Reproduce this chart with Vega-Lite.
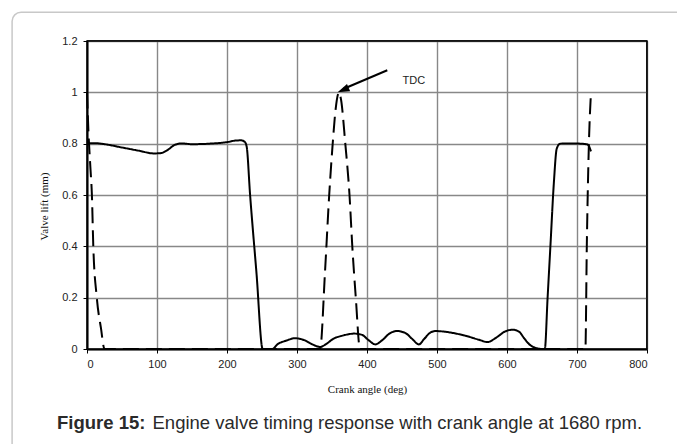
{
  "$schema": "https://vega.github.io/schema/vega-lite/v6.json",
  "autosize": {"type": "none"},
  "padding": {"left": 87, "top": 41, "right": 30, "bottom": 95},
  "width": 560,
  "height": 308,
  "background": "white",
  "config": {
    "view": {"stroke": "#000000", "strokeWidth": 1.5},
    "axis": {
      "grid": true,
      "gridColor": "#888888",
      "gridWidth": 1.4,
      "labelFont": "Liberation Sans",
      "labelFontSize": 11,
      "labelColor": "#222222",
      "titleFont": "Liberation Serif",
      "titleFontSize": 11,
      "titleFontWeight": "normal",
      "titleColor": "#111111",
      "domainColor": "#000000",
      "domainWidth": 2,
      "tickColor": "#000000",
      "tickSize": 4
    }
  },
  "datasets": {
    "lift": [
      {"angle": 0, "lift": 0.800, "series": "solid"},
      {"angle": 10, "lift": 0.802, "series": "solid"},
      {"angle": 25, "lift": 0.798, "series": "solid"},
      {"angle": 50, "lift": 0.785, "series": "solid"},
      {"angle": 75, "lift": 0.772, "series": "solid"},
      {"angle": 95, "lift": 0.762, "series": "solid"},
      {"angle": 105, "lift": 0.763, "series": "solid"},
      {"angle": 115, "lift": 0.775, "series": "solid"},
      {"angle": 125, "lift": 0.795, "series": "solid"},
      {"angle": 135, "lift": 0.801, "series": "solid"},
      {"angle": 150, "lift": 0.798, "series": "solid"},
      {"angle": 175, "lift": 0.800, "series": "solid"},
      {"angle": 200, "lift": 0.806, "series": "solid"},
      {"angle": 212, "lift": 0.812, "series": "solid"},
      {"angle": 220, "lift": 0.813, "series": "solid"},
      {"angle": 225, "lift": 0.808, "series": "solid"},
      {"angle": 228, "lift": 0.790, "series": "solid"},
      {"angle": 233, "lift": 0.600, "series": "solid"},
      {"angle": 242, "lift": 0.300, "series": "solid"},
      {"angle": 251, "lift": 0.000, "series": "solid"},
      {"angle": 265, "lift": 0.000, "series": "solid"},
      {"angle": 272, "lift": 0.018, "series": "solid"},
      {"angle": 285, "lift": 0.033, "series": "solid"},
      {"angle": 297, "lift": 0.042, "series": "solid"},
      {"angle": 310, "lift": 0.035, "series": "solid"},
      {"angle": 322, "lift": 0.018, "series": "solid"},
      {"angle": 333, "lift": 0.008, "series": "solid"},
      {"angle": 342, "lift": 0.020, "series": "solid"},
      {"angle": 352, "lift": 0.040, "series": "solid"},
      {"angle": 365, "lift": 0.052, "series": "solid"},
      {"angle": 382, "lift": 0.060, "series": "solid"},
      {"angle": 393, "lift": 0.055, "series": "solid"},
      {"angle": 402, "lift": 0.035, "series": "solid"},
      {"angle": 412, "lift": 0.018, "series": "solid"},
      {"angle": 422, "lift": 0.035, "series": "solid"},
      {"angle": 432, "lift": 0.060, "series": "solid"},
      {"angle": 443, "lift": 0.070, "series": "solid"},
      {"angle": 455, "lift": 0.062, "series": "solid"},
      {"angle": 465, "lift": 0.038, "series": "solid"},
      {"angle": 474, "lift": 0.018, "series": "solid"},
      {"angle": 482, "lift": 0.040, "series": "solid"},
      {"angle": 490, "lift": 0.063, "series": "solid"},
      {"angle": 498, "lift": 0.070, "series": "solid"},
      {"angle": 515, "lift": 0.066, "series": "solid"},
      {"angle": 540, "lift": 0.052, "series": "solid"},
      {"angle": 560, "lift": 0.036, "series": "solid"},
      {"angle": 572, "lift": 0.027, "series": "solid"},
      {"angle": 585, "lift": 0.045, "series": "solid"},
      {"angle": 597, "lift": 0.068, "series": "solid"},
      {"angle": 608, "lift": 0.075, "series": "solid"},
      {"angle": 617, "lift": 0.068, "series": "solid"},
      {"angle": 625, "lift": 0.040, "series": "solid"},
      {"angle": 632, "lift": 0.018, "series": "solid"},
      {"angle": 640, "lift": 0.005, "series": "solid"},
      {"angle": 650, "lift": 0.000, "series": "solid"},
      {"angle": 654, "lift": 0.000, "series": "solid"},
      {"angle": 658, "lift": 0.200, "series": "solid"},
      {"angle": 662, "lift": 0.400, "series": "solid"},
      {"angle": 667, "lift": 0.650, "series": "solid"},
      {"angle": 671, "lift": 0.780, "series": "solid"},
      {"angle": 676, "lift": 0.800, "series": "solid"},
      {"angle": 690, "lift": 0.801, "series": "solid"},
      {"angle": 705, "lift": 0.800, "series": "solid"},
      {"angle": 715, "lift": 0.797, "series": "solid"},
      {"angle": 720, "lift": 0.770, "series": "solid"},
      {"angle": 0, "lift": 1.0, "series": "dashed"},
      {"angle": 2, "lift": 0.85, "series": "dashed"},
      {"angle": 5, "lift": 0.70, "series": "dashed"},
      {"angle": 7, "lift": 0.60, "series": "dashed"},
      {"angle": 9, "lift": 0.40, "series": "dashed"},
      {"angle": 14, "lift": 0.20, "series": "dashed"},
      {"angle": 20, "lift": 0.08, "series": "dashed"},
      {"angle": 25, "lift": 0.0, "series": "dashed"},
      {"angle": 333, "lift": 0.0, "series": "dashed"},
      {"angle": 340, "lift": 0.30, "series": "dashed"},
      {"angle": 346, "lift": 0.60, "series": "dashed"},
      {"angle": 351, "lift": 0.80, "series": "dashed"},
      {"angle": 355, "lift": 0.93, "series": "dashed"},
      {"angle": 360, "lift": 1.0, "series": "dashed"},
      {"angle": 363, "lift": 0.97, "series": "dashed"},
      {"angle": 369, "lift": 0.80, "series": "dashed"},
      {"angle": 375, "lift": 0.60, "series": "dashed"},
      {"angle": 379, "lift": 0.40, "series": "dashed"},
      {"angle": 384, "lift": 0.20, "series": "dashed"},
      {"angle": 390, "lift": 0.0, "series": "dashed"},
      {"angle": 712, "lift": 0.0, "series": "dashed"},
      {"angle": 714, "lift": 0.4, "series": "dashed"},
      {"angle": 717, "lift": 0.8, "series": "dashed"},
      {"angle": 720, "lift": 1.0, "series": "dashed"}
    ]
  },
  "layer": [
    {
      "data": {"name": "lift"},
      "mark": {"type": "line", "color": "#000000", "strokeWidth": 2, "interpolate": "monotone"},
      "encoding": {
        "x": {
          "field": "angle", "type": "quantitative",
          "scale": {"domain": [0, 800], "nice": false},
          "axis": {
            "values": [0, 100, 200, 300, 400, 500, 600, 700, 800],
            "title": "Crank angle (deg)",
            "grid": true,
            "labelPadding": 5,
            "titlePadding": 14
          }
        },
        "y": {
          "field": "lift", "type": "quantitative",
          "scale": {"domain": [0, 1.2], "nice": false},
          "axis": {
            "values": [0, 0.2, 0.4, 0.6, 0.8, 1, 1.2],
            "format": "~g",
            "title": "Valve lift (mm)",
            "grid": true,
            "labelPadding": 6,
            "titlePadding": 12,
            "titleY": 165
          }
        },
        "strokeDash": {
          "field": "series", "type": "nominal",
          "scale": {"domain": ["solid", "dashed"], "range": [[1, 0], [16, 7]]},
          "legend": null
        }
      }
    },
    {
      "data": {"values": [{"edge": "top"}]},
      "mark": {"type": "rule", "color": "#000000", "strokeWidth": 1.5},
      "encoding": {
        "x": {"datum": 0, "type": "quantitative"},
        "x2": {"datum": 800},
        "y": {"datum": 1.2, "type": "quantitative"}
      }
    },
    {
      "data": {"values": [{"edge": "right"}]},
      "mark": {"type": "rule", "color": "#000000", "strokeWidth": 1.5},
      "encoding": {
        "x": {"datum": 800, "type": "quantitative"},
        "y": {"datum": 0, "type": "quantitative"},
        "y2": {"datum": 1.2}
      }
    },
    {
      "data": {"values": [{"frame": "figure"}]},
      "mark": {"type": "rect", "fill": null, "filled": false, "stroke": "#c8c8c8", "strokeWidth": 1.5, "cornerRadius": 9},
      "encoding": {
        "x": {"datum": -107, "type": "quantitative"},
        "x2": {"datum": 880},
        "y": {"datum": 1.312, "type": "quantitative"},
        "y2": {"datum": -0.45}
      }
    },
    {
      "data": {"values": [{"label": "arrow"}]},
      "mark": {"type": "rule", "color": "#000000", "strokeWidth": 2},
      "encoding": {
        "x": {"datum": 429, "type": "quantitative"},
        "y": {"datum": 1.086, "type": "quantitative"},
        "x2": {"datum": 366},
        "y2": {"datum": 1.013}
      }
    },
    {
      "data": {"values": [{"label": "arrowhead"}]},
      "mark": {"type": "point", "shape": "M0,0L0.33,1L-0.33,1Z", "filled": true, "color": "#000000", "opacity": 1, "size": 576, "angle": 246.5},
      "encoding": {
        "x": {"datum": 358, "type": "quantitative"},
        "y": {"datum": 1.0, "type": "quantitative"}
      }
    },
    {
      "data": {"values": [{"label": "TDC"}]},
      "mark": {"type": "text", "font": "Liberation Sans", "fontSize": 11, "color": "#222222", "align": "center", "baseline": "middle"},
      "encoding": {
        "x": {"datum": 467, "type": "quantitative"},
        "y": {"datum": 1.044, "type": "quantitative"},
        "text": {"field": "label"}
      }
    },
    {
      "data": {"values": [{"label": "Figure 15:"}]},
      "mark": {"type": "text", "font": "Liberation Sans", "fontSize": 18.5, "fontWeight": "bold", "color": "#2a2a2a", "align": "left", "baseline": "alphabetic"},
      "encoding": {
        "x": {"datum": -42.9, "type": "quantitative"},
        "y": {"datum": -0.313, "type": "quantitative"},
        "text": {"field": "label"}
      }
    },
    {
      "data": {"values": [{"label": "Engine valve timing response with crank angle at 1680 rpm."}]},
      "mark": {"type": "text", "font": "Liberation Sans", "fontSize": 18.5, "color": "#2a2a2a", "align": "right", "baseline": "alphabetic"},
      "encoding": {
        "x": {"datum": 792.9, "type": "quantitative"},
        "y": {"datum": -0.313, "type": "quantitative"},
        "text": {"field": "label"}
      }
    }
  ]
}
